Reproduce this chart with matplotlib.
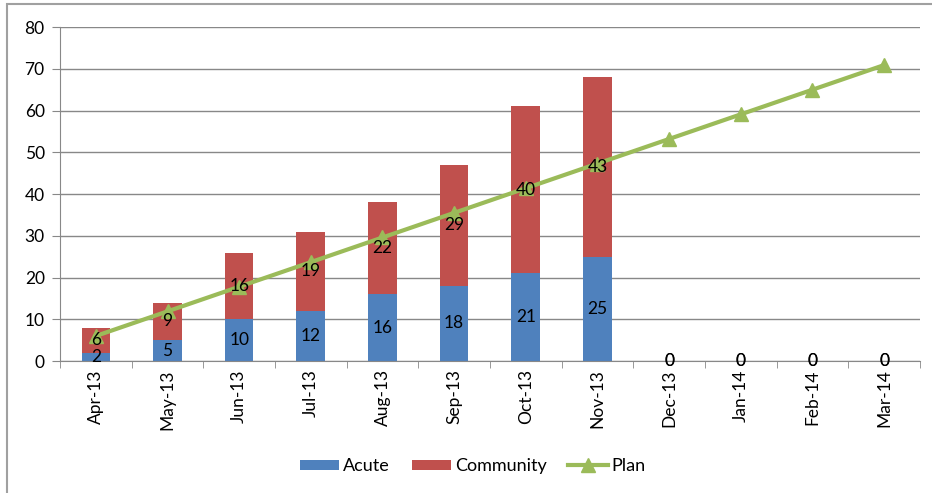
import numpy as np
import matplotlib.pyplot as plt
from matplotlib.patches import Rectangle

months = ['Apr-13', 'May-13', 'Jun-13', 'Jul-13', 'Aug-13', 'Sep-13',
          'Oct-13', 'Nov-13', 'Dec-13', 'Jan-14', 'Feb-14', 'Mar-14']
acute = [2, 5, 10, 12, 16, 18, 21, 25, 0, 0, 0, 0]
community = [6, 9, 16, 19, 22, 29, 40, 43, 0, 0, 0, 0]
plan = [6, 11.9, 17.8, 23.7, 29.6, 35.5, 41.4, 47.3, 53.2, 59.1, 65, 70.9]

c_acute = '#4F81BD'
c_comm = '#C0504D'
c_plan = '#9BBB59'

plt.rcParams['font.family'] = ['Lato', 'DejaVu Sans']

fig = plt.figure(figsize=(9.32, 4.93), dpi=100)
fig.patches.append(Rectangle((0.008, -0.01), 1.0, 1.002, transform=fig.transFigure,
                             fill=False, edgecolor='#A0A0A0', linewidth=1.5))
ax = fig.add_axes([0.0644, 0.2677, 0.9226, 0.6773])

x = np.arange(len(months))
w = 0.4
b1 = ax.bar(x, acute, w, color=c_acute, label='Acute', zorder=2)
b2 = ax.bar(x, community, w, bottom=acute, color=c_comm, label='Community', zorder=2)
ln, = ax.plot(x, plan, color=c_plan, lw=3, marker='^', ms=10, label='Plan', zorder=3)

for i in range(len(months)):
    ax.text(x[i], acute[i] / 2, str(acute[i]), ha='center', va='center',
            fontsize=12.5, zorder=4)
    ax.text(x[i], acute[i] + community[i] / 2, str(community[i]), ha='center',
            va='center', fontsize=12.5, zorder=4)

ax.set_xlim(-0.5, len(months) - 0.5)
ax.set_ylim(0, 80)
ax.set_yticks(range(0, 81, 10))
ax.set_xticks(x)
ax.set_xticklabels(months, rotation=90, fontsize=12.5)
ax.set_xticks(np.arange(-0.5, len(months), 1), minor=True)
ax.tick_params(axis='x', which='major', length=0, pad=6)
ax.tick_params(axis='x', which='minor', length=5, color='#888888')
ax.tick_params(axis='y', length=6, color='#888888', labelsize=12.5, pad=5)
ax.grid(axis='y', color='#888888', lw=1, zorder=0)
for s in ['top', 'right']:
    ax.spines[s].set_visible(False)
ax.spines['left'].set_color('#888888')
ax.spines['bottom'].set_color('#888888')

ax.legend([b1, b2, ln], ['Acute', 'Community', 'Plan'], loc='center',
          bbox_to_anchor=(0.48, -0.315), ncol=3, frameon=False,
          fontsize=13, handlelength=2.2, handleheight=0.5, columnspacing=1.2,
          handletextpad=0.2)

fig.savefig('out.png', dpi=100)
